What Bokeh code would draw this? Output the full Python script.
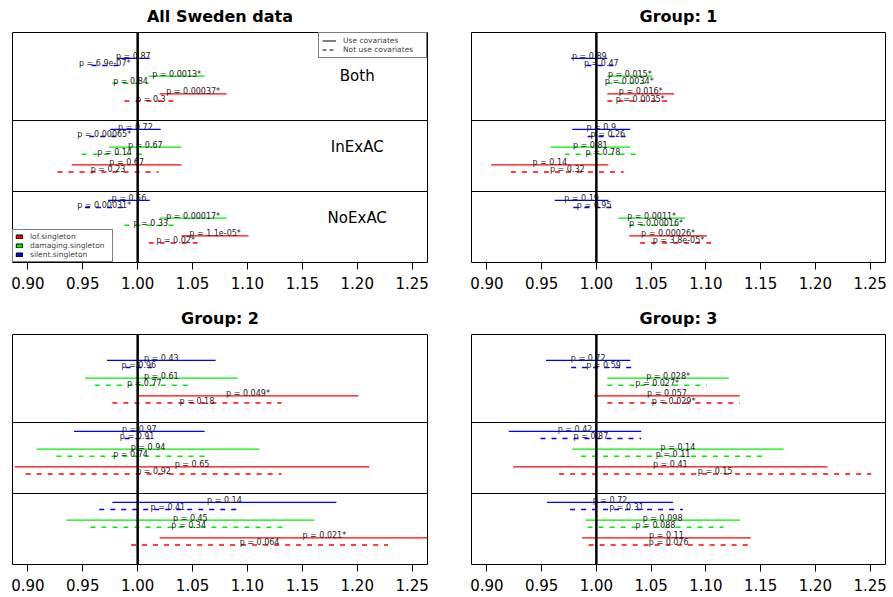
from bokeh.plotting import figure
from bokeh.models import Range1d, Span, FixedTicker, Legend, LegendItem, ColumnDataSource, PrintfTickFormatter
from bokeh.layouts import gridplot
from bokeh.embed import file_html
from bokeh.resources import INLINE
from bokeh.core.properties import value

# ---------------- data ----------------
sections = ["Both", "InExAC", "NoExAC"]
variant_types = ["silent.singleton", "damaging.singleton", "lof.singleton"]   # row order top -> bottom
legend_order = ["lof.singleton", "damaging.singleton", "silent.singleton"]
tick_values = [0.90, 0.95, 1.00, 1.05, 1.10, 1.15, 1.20, 1.25]
panel_titles = ["All Sweden data", "Group: 1", "Group: 2", "Group: 3"]

# order inside each list: Both(silent, damaging, lof), InExAC(...), NoExAC(...)
sweden_cov_lo = [0.981, 1.010, 1.020, 0.975, 0.974, 0.940, 0.973, 1.020, 1.040]
sweden_cov_hi = [1.011, 1.061, 1.081, 1.021, 1.040, 1.040, 1.011, 1.081, 1.101]
sweden_cov_p = ["0.87", "0.0013*", "0.00037*", "0.72", "0.67", "0.67", "0.56", "0.00017*", "1.1e-05*"]
sweden_nocov_lo = [0.958, 0.977, 0.988, 0.956, 0.949, 0.927, 0.952, 0.988, 1.010]
sweden_nocov_hi = [0.982, 1.010, 1.036, 0.983, 1.009, 1.019, 0.987, 1.036, 1.059]
sweden_nocov_p = ["6.9e-07*", "0.84", "0.3", "0.00065*", "0.14", "0.23", "0.00031*", "0.33", "0.02*"]

group1_cov_lo = [0.977, 1.010, 1.010, 0.978, 0.958, 0.904, 0.962, 1.020, 1.030]
group1_cov_hi = [1.010, 1.051, 1.071, 1.031, 1.031, 1.011, 1.011, 1.081, 1.101]
group1_cov_p = ["0.89", "0.015*", "0.016*", "0.9", "0.81", "0.14", "0.19", "0.0011*", "0.00026*"]
group1_nocov_lo = [0.991, 1.010, 1.010, 0.992, 0.971, 0.922, 0.979, 1.030, 1.040]
group1_nocov_hi = [1.018, 1.050, 1.070, 1.029, 1.041, 1.025, 1.017, 1.079, 1.110]
group1_nocov_p = ["0.47", "0.0034*", "0.0035*", "0.26", "0.78", "0.32", "0.95", "0.00016*", "3.8e-05*"]

group2_cov_lo = [0.972, 0.952, 1.000, 0.942, 0.908, 0.888, 0.977, 0.935, 1.020]
group2_cov_hi = [1.071, 1.091, 1.201, 1.061, 1.111, 1.211, 1.181, 1.161, 1.320]
group2_cov_p = ["0.43", "0.61", "0.049*", "0.97", "0.94", "0.65", "0.14", "0.45", "0.021*"]
group2_nocov_lo = [0.989, 0.961, 0.977, 0.988, 0.926, 0.898, 0.965, 0.957, 0.994]
group2_nocov_hi = [1.013, 1.051, 1.131, 1.011, 1.061, 1.131, 1.090, 1.136, 1.228]
group2_nocov_p = ["0.96", "0.77", "0.18", "0.91", "0.74", "0.92", "0.41", "0.34", "0.064"]

group3_cov_lo = [0.954, 1.010, 0.998, 0.920, 0.978, 0.924, 0.955, 0.990, 0.987]
group3_cov_hi = [1.031, 1.121, 1.131, 1.041, 1.171, 1.211, 1.070, 1.131, 1.141]
group3_cov_p = ["0.72", "0.028*", "0.057", "0.42", "0.14", "0.41", "0.72", "0.098", "0.11"]
group3_nocov_lo = [0.977, 1.010, 1.010, 0.949, 0.986, 0.966, 0.976, 0.992, 0.993]
group3_nocov_hi = [1.036, 1.101, 1.131, 1.041, 1.154, 1.251, 1.079, 1.116, 1.139]
group3_nocov_p = ["0.59", "0.027*", "0.029*", "0.87", "0.11", "0.15", "0.31", "0.088", "0.076"]

panels = [
    (sweden_cov_lo, sweden_cov_hi, sweden_cov_p, sweden_nocov_lo, sweden_nocov_hi, sweden_nocov_p),
    (group1_cov_lo, group1_cov_hi, group1_cov_p, group1_nocov_lo, group1_nocov_hi, group1_nocov_p),
    (group2_cov_lo, group2_cov_hi, group2_cov_p, group2_nocov_lo, group2_nocov_hi, group2_nocov_p),
    (group3_cov_lo, group3_cov_hi, group3_cov_p, group3_nocov_lo, group3_nocov_hi, group3_nocov_p),
]

# ---------------- style ----------------
type_colors = {"silent.singleton": "#0000ff", "damaging.singleton": "#00ee00", "lof.singleton": "#ff0000"}
FONT = "DejaVu Sans"
DASH = "5 6"
TOP_PAD = 0.24          # extra space above first section (units of one section)
ROW_STEP = 0.25
ROW_START = 0.125
DASH_SHIFT = 0.1
SECTION_LABEL_X = 1.2
XR = (0.886, 1.264)
NAN = float("nan")

sizes = [  # width, height, left, right, top, bottom borders
    (449, 303, 12, 22, 32, 41),
    (444, 303, 22, 8, 32, 41),
    (449, 294, 12, 22, 31, 33),
    (444, 294, 22, 8, 31, 33),
]


def make_panel(i):
    w, h, bl, br, bt, bb = sizes[i]
    cov_lo, cov_hi, cov_p, nc_lo, nc_hi, nc_p = panels[i]
    p = figure(width=w, height=h, output_backend="svg", toolbar_location=None,
               x_range=Range1d(*XR), y_range=Range1d(TOP_PAD + len(sections), 0),
               y_axis_location=None, min_border_left=bl, min_border_right=br,
               min_border_top=bt, min_border_bottom=bb)
    p.xgrid.visible = False
    p.ygrid.visible = False
    p.outline_line_color = "black"
    p.outline_line_width = 1
    p.outline_line_alpha = 1
    p.background_fill_color = "white"
    p.border_fill_color = "white"

    p.title.text = panel_titles[i]
    p.title.align = "center"
    p.title.vertical_align = "top"
    p.title.text_font = FONT
    p.title.text_font_size = "16px"
    p.title.text_font_style = "bold"
    p.title.text_color = "black"
    p.title.standoff = 10

    ax = p.xaxis[0]
    ax.ticker = FixedTicker(ticks=tick_values)
    ax.formatter = PrintfTickFormatter(format="%.2f")
    ax.axis_line_color = None
    ax.major_tick_out = 7
    ax.major_tick_in = 0
    ax.minor_tick_out = 0
    ax.minor_tick_in = 0
    ax.major_tick_line_color = "black"
    ax.major_label_standoff = 7
    ax.major_label_text_font = FONT
    ax.major_label_text_font_size = "15px"
    ax.major_label_text_color = "black"

    # section dividers
    for s in range(1, len(sections)):
        p.add_layout(Span(location=TOP_PAD + s, dimension="width", line_color="black", line_width=1))

    for dashed, (lo, hi, pv) in enumerate([(cov_lo, cov_hi, cov_p), (nc_lo, nc_hi, nc_p)]):
        xs0, xs1, ys, cols, labs, mids = [], [], [], [], [], []
        for s in range(len(sections)):
            for c, t in enumerate(variant_types):
                k = s * len(variant_types) + c
                y = TOP_PAD + s + ROW_START + ROW_STEP * c + DASH_SHIFT * dashed
                xs0.append(lo[k]); xs1.append(hi[k]); ys.append(y)
                cols.append(type_colors[t]); labs.append("p = " + pv[k])
                mids.append((lo[k] + hi[k]) / 2)
        src = ColumnDataSource(dict(x0=xs0, x1=xs1, y=ys, color=cols, label=labs, xm=mids))
        p.segment(x0="x0", y0="y", x1="x1", y1="y", source=src, line_color="color",
                  line_width=1.3, line_dash=DASH if dashed else "solid")
        p.text(x="xm", y="y", text="label", source=src, text_font=value(FONT),
               text_font_size=value("8px"), text_align="center", text_baseline="middle",
               y_offset=-2, text_color="#222222")

    p.add_layout(Span(location=1.0, dimension="height", line_color="black", line_width=2.5))

    if i == 0:
        p.text(x=[SECTION_LABEL_X] * len(sections),
               y=[TOP_PAD + s + ROW_START + ROW_STEP for s in range(len(sections))],
               text=sections, text_font=value(FONT), text_font_size=value("15px"),
               text_align="center", text_baseline="middle", text_color="black")
        r_solid = p.line(x=[NAN], y=[NAN], line_color="black", line_width=1)
        r_dash = p.line(x=[NAN], y=[NAN], line_color="black", line_width=1, line_dash="4 3")
        leg1 = Legend(items=[LegendItem(label="Use covariates", renderers=[r_solid]),
                             LegendItem(label="Not use covariates", renderers=[r_dash])],
                      location="top_right", margin=0, padding=3, spacing=0,
                      glyph_width=14, glyph_height=7, label_height=7, label_width=80,
                      label_standoff=7, label_text_font=FONT, label_text_font_size="7.5px",
                      border_line_color="black", border_line_width=1,
                      background_fill_color="white", background_fill_alpha=1)
        p.add_layout(leg1)
        items = []
        for t in legend_order:
            r = p.quad(left=[NAN], right=[NAN], top=[NAN], bottom=[NAN], fill_color=type_colors[t],
                       line_color="black", line_width=1)
            items.append(LegendItem(label=t, renderers=[r]))
        leg2 = Legend(items=items, location="bottom_left", margin=0, padding=2, spacing=0,
                      glyph_width=8, glyph_height=5, label_height=7, label_width=80,
                      label_standoff=7, label_text_font=FONT, label_text_font_size="7.5px",
                      border_line_color="black", border_line_width=1,
                      background_fill_color="white", background_fill_alpha=1)
        p.add_layout(leg2)
    return p


figs = [make_panel(i) for i in range(4)]
grid = gridplot([[figs[0], figs[1]], [figs[2], figs[3]]], toolbar_location=None)
open("out.html", "w").write(file_html(grid, INLINE))
